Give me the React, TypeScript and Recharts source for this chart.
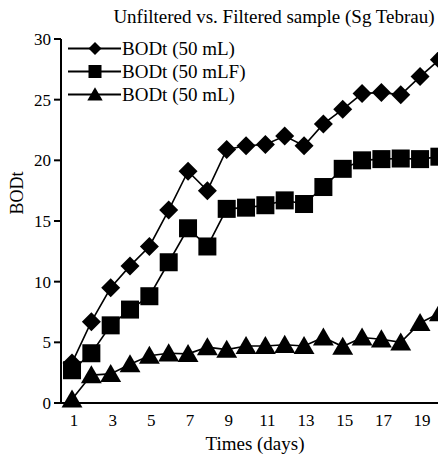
import React from 'react';
import { LineChart, Line, XAxis, YAxis, Customized } from 'recharts';

const days = [1, 2, 3, 4, 5, 6, 7, 8, 9, 10, 11, 12, 13, 14, 15, 16, 17, 18, 19, 20];
const bod50 = [3.3, 6.7, 9.5, 11.3, 12.9, 15.9, 19.1, 17.5, 20.9, 21.2, 21.3, 22.0, 21.2, 23.0, 24.2, 25.5, 25.6, 25.4, 26.9, 28.3];
const bod50F = [2.7, 4.1, 6.4, 7.7, 8.8, 11.6, 14.4, 12.9, 16.0, 16.1, 16.3, 16.7, 16.4, 17.8, 19.3, 20.0, 20.1, 20.15, 20.1, 20.3];
const bod50b = [0.3, 2.3, 2.4, 3.2, 3.9, 4.1, 4.05, 4.6, 4.4, 4.7, 4.7, 4.8, 4.7, 5.4, 4.65, 5.4, 5.25, 5.0, 6.6, 7.4];
const xTicks = [1, 3, 5, 7, 9, 11, 13, 15, 17, 19];
const yTicks = [0, 5, 10, 15, 20, 25, 30];
const seriesNames = ['BODt (50 mL)', 'BODt (50 mLF)', 'BODt (50 mL)'];
const titleText = 'Unfiltered vs. Filtered sample (Sg Tebrau)';
const xLabel = 'Times (days)';
const yLabel = 'BODt';

const data = days.map((d, i) => ({ day: d, a: bod50[i], b: bod50F[i], c: bod50b[i] }));

const FONT = '"Liberation Serif", "Times New Roman", serif';

type Shape = 'diamond' | 'square' | 'triangle';

function Marker({ shape, cx, cy, s }: { shape: Shape; cx: number; cy: number; s: number }) {
  if (shape === 'diamond') {
    const h = s / 2;
    return <polygon points={`${cx},${cy - h} ${cx + h},${cy} ${cx},${cy + h} ${cx - h},${cy}`} fill="#000" />;
  }
  if (shape === 'square') {
    const h = s / 2;
    return <rect x={cx - h} y={cy - h} width={s} height={s} fill="#000" />;
  }
  const w = s * 1.1;
  const ht = s * 0.95;
  return (
    <polygon
      points={`${cx},${cy - ht * 0.55} ${cx + w / 2},${cy + ht * 0.45} ${cx - w / 2},${cy + ht * 0.45}`}
      fill="#000"
    />
  );
}

const makeDot = (shape: Shape, size: number) => (props: any) => {
  const { cx, cy, index } = props;
  if (cx == null || cy == null) return <g key={`${shape}-${index}`} />;
  return (
    <g key={`${shape}-${index}`}>
      <Marker shape={shape} cx={cx} cy={cy} s={size} />
    </g>
  );
};

const shapes: Shape[] = ['diamond', 'square', 'triangle'];
const dataKeys = ['a', 'b', 'c'];
const markerSizes = [19, 18, 19];
const legendSizes = [13, 13, 14];

function Overlay() {
  return (
    <g>
      <text x={274} y={23} textAnchor="middle" fontFamily={FONT} fontSize={19} fill="#000">
        {titleText}
      </text>
      <text
        transform="translate(23,193) rotate(-90)"
        textAnchor="middle"
        fontFamily={FONT}
        fontSize={18}
        fill="#000"
      >
        {yLabel}
      </text>
      <text x={255} y={450} textAnchor="middle" fontFamily={FONT} fontSize={19} fill="#000">
        {xLabel}
      </text>
      {seriesNames.map((name, i) => {
        const y = 48.5 + i * 23;
        return (
          <g key={i}>
            <line x1={68} x2={121} y1={y} y2={y} stroke="#000" strokeWidth={1.8} />
            <Marker shape={shapes[i]} cx={95} cy={y} s={legendSizes[i]} />
            <text x={122} y={y + 6.5} fontFamily={FONT} fontSize={19} fill="#000">
              {name}
            </text>
          </g>
        );
      })}
    </g>
  );
}

export default function App() {
  return (
    <div
      style={{
        position: 'absolute',
        left: 0,
        top: 0,
        width: 438,
        height: 457,
        overflow: 'hidden',
        background: '#fff',
      }}
    >
      <LineChart
        width={470}
        height={457}
        data={data}
        margin={{ top: 39, right: 19, bottom: 0, left: 0 }}
      >
        <XAxis
          dataKey="day"
          type="number"
          domain={[0.43, 20.6]}
          ticks={xTicks}
          allowDataOverflow
          tickLine={false}
          tickSize={0}
          tickMargin={11}
          height={54}
          axisLine={{ stroke: '#000', strokeWidth: 2 }}
          tick={{ fill: '#000', fontFamily: FONT, fontSize: 17, dx: 2 }}
        />
        <YAxis
          type="number"
          domain={[0, 30]}
          ticks={yTicks}
          width={61}
          tickSize={7}
          tickMargin={3}
          axisLine={{ stroke: '#000', strokeWidth: 2 }}
          tickLine={{ stroke: '#000', strokeWidth: 2 }}
          tick={{ fill: '#000', fontFamily: FONT, fontSize: 17 }}
        />
        {dataKeys.map((k, i) => (
          <Line
            key={k}
            dataKey={k}
            type="linear"
            stroke="#000"
            strokeWidth={1.6}
            dot={makeDot(shapes[i], markerSizes[i])}
            activeDot={false}
            isAnimationActive={false}
          />
        ))}
        <Customized component={Overlay} />
      </LineChart>
    </div>
  );
}
